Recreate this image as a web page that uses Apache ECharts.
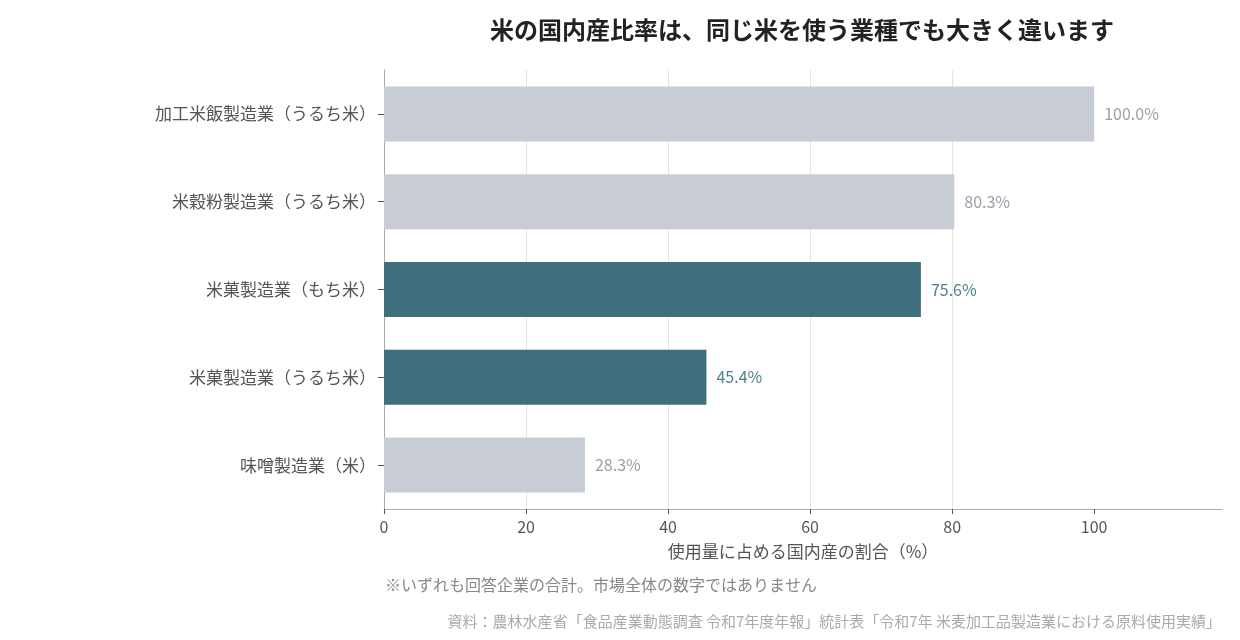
<!DOCTYPE html>
<html>
<head>
<meta charset="utf-8">
<script src="https://cdn.jsdelivr.net/npm/echarts@6/dist/echarts.min.js"></script>
<style>
  html, body { margin: 0; padding: 0; background: #fff; }
  #chart { width: 1240px; height: 640px; }
</style>
</head>
<body>
<div id="chart"></div>
<script>
const categories = [
  "加工米飯製造業（うるち米）",
  "米穀粉製造業（うるち米）",
  "米菓製造業（もち米）",
  "米菓製造業（うるち米）",
  "味噌製造業（米）"
];
const values = [100.0, 80.3, 75.6, 45.4, 28.3];
const highlighted = [false, false, true, true, false];
const xTicks = [0, 20, 40, 60, 80, 100];

const titleText = "米の国内産比率は、同じ米を使う業種でも大きく違います";
const axisTitle = "使用量に占める国内産の割合（%）";
const noteText = "※いずれも回答企業の合計。市場全体の数字ではありません";
const sourceText = "資料：農林水産省「食品産業動態調査 令和7年度年報」統計表「令和7年 米麦加工品製造業における原料使用実績」";

const FONT = "'Noto Sans CJK JP', 'Noto Sans', sans-serif";
const GRAY = "#c8ccd5", TEAL = "#3f6f7c";
const GRAY_LABEL = "#9a9ea8", TEAL_LABEL = "#4f7f8c";

const chart = echarts.init(document.getElementById("chart"));

const option = {
  animation: false,
  textStyle: { fontFamily: FONT },
  grid: { left: 384, right: 18, top: 70, bottom: 131, containLabel: false },
  xAxis: {
    type: "value",
    min: 0,
    max: 118,
    interval: 20,
    name: axisTitle,
    nameLocation: "middle",
    nameGap: 34,
    nameTextStyle: { fontSize: 17, color: "#555", fontFamily: FONT },
    axisLine: { show: true, lineStyle: { color: "#aaa", width: 1 } },
    axisTick: { show: true, length: 5, lineStyle: { color: "#555" }, customValues: xTicks },
    axisLabel: { fontSize: 16, color: "#555", margin: 10, customValues: xTicks, fontFamily: FONT },
    splitLine: { show: true, showMaxLine: false, lineStyle: { color: "#e4e4e4", width: 1 } }
  },
  yAxis: {
    type: "category",
    inverse: true,
    data: categories,
    axisLine: { show: true, lineStyle: { color: "#aaa", width: 1 } },
    axisTick: { show: true, length: 6, alignWithLabel: true, lineStyle: { color: "#555" } },
    axisLabel: { fontSize: 17, color: "#555", margin: 8, fontFamily: FONT }
  },
  series: [{
    type: "bar",
    barWidth: 55,
    data: values.map((v, i) => ({
      value: v,
      itemStyle: { color: highlighted[i] ? TEAL : GRAY },
      label: { color: highlighted[i] ? TEAL_LABEL : GRAY_LABEL }
    })),
    label: {
      show: true,
      position: "right",
      distance: 10,
      fontSize: 16,
      fontFamily: FONT,
      formatter: p => p.value.toFixed(1) + "%"
    }
  }],
  graphic: [
    {
      type: "text", x: 802, y: 30,
      style: { text: titleText, fontSize: 24, fontWeight: "bold", fill: "#222", fontFamily: FONT, align: "center", verticalAlign: "middle" }
    },
    {
      type: "text", x: 385, y: 585,
      style: { text: noteText, fontSize: 16, fill: "#888", fontFamily: FONT, align: "left", verticalAlign: "middle" }
    },
    {
      type: "text", x: 1221, y: 621,
      style: { text: sourceText, fontSize: 15, fill: "#aaa", fontFamily: FONT, align: "right", verticalAlign: "middle" }
    }
  ]
};

chart.setOption(option);
</script>
</body>
</html>
